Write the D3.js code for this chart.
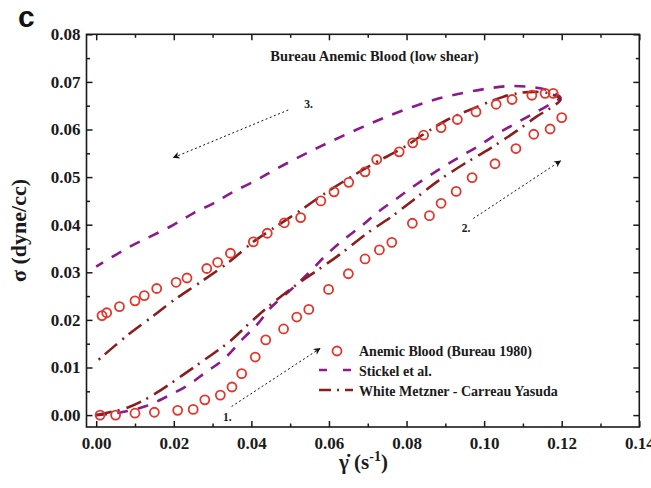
<!DOCTYPE html>
<html>
<head>
<meta charset="utf-8">
<script src="https://cdn.jsdelivr.net/npm/d3@7"></script>
<style>
  body { margin: 0; background: #fff; }
</style>
</head>
<body>
<svg id="chart" width="651" height="488"></svg>
<script>
// Measured shear stress of anemic blood (Bureau 1980), loading branch
const loadRate = [0.001, 0.005, 0.010, 0.015, 0.021, 0.025, 0.028, 0.032, 0.035, 0.0375,
  0.041, 0.0437, 0.0483, 0.0517, 0.0548, 0.0599, 0.065, 0.0693, 0.073, 0.0762,
  0.0815, 0.0859, 0.0889, 0.0928, 0.0969, 0.1028, 0.1082, 0.1128, 0.117, 0.120];
const loadStress = [0.000, 0.000, 0.0004, 0.0006, 0.0010, 0.0012, 0.0032, 0.0042, 0.0059, 0.0087,
  0.0122, 0.0158, 0.0181, 0.0206, 0.0222, 0.0264, 0.0297, 0.0328, 0.0347, 0.0363,
  0.0403, 0.0419, 0.0445, 0.0470, 0.0499, 0.0528, 0.0560, 0.0590, 0.0601, 0.0625];

// Unloading branch (decreasing shear rate)
const unloadRate = [0.1178, 0.1157, 0.1123, 0.1072, 0.1031, 0.0979, 0.0931, 0.0889, 0.0844, 0.0816,
  0.0781, 0.0723, 0.0693, 0.0651, 0.0613, 0.0579, 0.0527, 0.0485, 0.0441, 0.0405,
  0.0346, 0.0313, 0.0285, 0.0234, 0.0206, 0.0156, 0.0124, 0.0100, 0.0060, 0.0027, 0.0015];
const unloadStress = [0.0676, 0.0676, 0.0672, 0.0663, 0.0653, 0.0637, 0.0621, 0.0604, 0.0588, 0.0572,
  0.0553, 0.0537, 0.0511, 0.0489, 0.0469, 0.0450, 0.0415, 0.0404, 0.0382, 0.0364,
  0.0340, 0.0321, 0.0308, 0.0288, 0.0279, 0.0266, 0.0251, 0.0240, 0.0228, 0.0215, 0.0209];

// Stickel et al. model: up-sweep then down-sweep (closed loop)
const stickelRate = [0, 0.006, 0.0129, 0.018, 0.0237, 0.0284, 0.0327, 0.0379, 0.0418, 0.0449,
  0.050, 0.0547, 0.059, 0.0637, 0.0685, 0.0727, 0.0775, 0.0826, 0.0882, 0.0934,
  0.0985, 0.1032, 0.1084, 0.1135, 0.1187, 0.1197,
  0.1162, 0.1111, 0.1059, 0.1008, 0.0947, 0.0882, 0.0817, 0.0749, 0.0689, 0.0629,
  0.0577, 0.0525, 0.0466, 0.0414, 0.0353, 0.0302, 0.0250, 0.0198, 0.0139, 0.0087, 0.0];
const stickelStress = [0, 0.0005, 0.0019, 0.0038, 0.0063, 0.0091, 0.0116, 0.0161, 0.0193, 0.0225,
  0.0262, 0.0298, 0.0334, 0.0368, 0.0398, 0.0427, 0.0455, 0.0485, 0.0515, 0.0541,
  0.0565, 0.0590, 0.0614, 0.0637, 0.0661, 0.0667,
  0.0683, 0.0690, 0.0691, 0.0686, 0.0677, 0.0665, 0.0648, 0.0627, 0.0606, 0.0584,
  0.0564, 0.0543, 0.0518, 0.0494, 0.0469, 0.0445, 0.0424, 0.0399, 0.0375, 0.0354, 0.0312];

// White Metzner - Carreau Yasuda model: up-sweep then down-sweep
const wmcyRate = [0, 0.0085, 0.0154, 0.0223, 0.0279, 0.0343, 0.0395, 0.0448, 0.0518, 0.0577,
  0.0637, 0.0698, 0.0758, 0.0818, 0.0878, 0.0947, 0.1015, 0.1084, 0.1135, 0.1178, 0.1197,
  0.1166, 0.1135, 0.1093, 0.105, 0.0977, 0.0904, 0.0844, 0.0788, 0.0719, 0.065,
  0.059, 0.0521, 0.0452, 0.0405, 0.0343, 0.027, 0.0201, 0.0145, 0.0081, 0.0];
const wmcyStress = [0, 0.0017, 0.0046, 0.0084, 0.0116, 0.0154, 0.0193, 0.0231, 0.0275, 0.0308,
  0.0343, 0.0382, 0.0415, 0.0452, 0.0490, 0.0527, 0.0560, 0.0597, 0.0627, 0.0649, 0.0663,
  0.0676, 0.0679, 0.0677, 0.0669, 0.0646, 0.0620, 0.0590, 0.0560, 0.0530, 0.0497,
  0.0466, 0.0427, 0.0390, 0.0364, 0.0322, 0.0280, 0.0242, 0.0207, 0.0168, 0.0112];

// Axis ticks
const xTicks = [0, 0.02, 0.04, 0.06, 0.08, 0.10, 0.12, 0.14];
const xMinor = [0.01, 0.03, 0.05, 0.07, 0.09, 0.11, 0.13];
const yTicks = [0, 0.01, 0.02, 0.03, 0.04, 0.05, 0.06, 0.07, 0.08];
const yMinor = [0.005, 0.015, 0.025, 0.035, 0.045, 0.055, 0.065, 0.075];

// Sweep-direction arrows [x0, y0, x1, y1] and their labels
const arrowLines = [
  [0.0349, 0.0018, 0.0577, 0.0140],
  [0.0972, 0.0413, 0.1197, 0.0534],
  [0.0495, 0.0641, 0.0199, 0.0541]
];
const arrowLabels = ["1.", "2.", "3."];
const arrowLabelPos = [[0.0327, -0.0013], [0.0942, 0.0385], [0.0536, 0.0645]];

const legendNames = ["Anemic Blood (Bureau 1980)", "Stickel et al.", "White Metzner - Carreau Yasuda"];

const COL_DATA = "#e3352b", COL_STICKEL = "#8c1a8c", COL_WMCY = "#8b1d1d";
const SERIF = "'Liberation Serif', 'Times New Roman', serif";
const INK = "#1a1a1a";

const svg = d3.select("#chart");
const x = d3.scaleLinear().domain([-0.0025, 0.14]).range([86.5, 639.3]);
const y = d3.scaleLinear().domain([-0.0025, 0.08]).range([427, 34.3]);
const fmt = d3.format(".2f");

// serif bold text helper
function serif(sel, size) {
  return sel.style("font-family", SERIF).style("font-weight", "bold").style("font-size", size + "px").style("fill", INK);
}

// axes (inward ticks on all four sides)
function styleAxis(g) {
  g.select(".domain").remove();
  g.selectAll(".tick line").attr("stroke", INK).attr("stroke-width", 1.5);
  serif(g.selectAll(".tick text"), 17);
}
svg.append("g").attr("transform", "translate(0,427)")
  .call(d3.axisBottom(x).tickValues(xTicks).tickSize(-6).tickPadding(10).tickFormat(fmt)).call(styleAxis);
svg.append("g").attr("transform", "translate(0,427)")
  .call(d3.axisBottom(x).tickValues(xMinor).tickSize(-3.5).tickFormat("")).call(styleAxis);
svg.append("g").attr("transform", "translate(0,34.3)")
  .call(d3.axisTop(x).tickValues(xTicks).tickSize(-6).tickFormat("")).call(styleAxis);
svg.append("g").attr("transform", "translate(0,34.3)")
  .call(d3.axisTop(x).tickValues(xMinor).tickSize(-3.5).tickFormat("")).call(styleAxis);
svg.append("g").attr("transform", "translate(86.5,0)")
  .call(d3.axisLeft(y).tickValues(yTicks).tickSize(-6).tickPadding(6).tickFormat(fmt)).call(styleAxis);
svg.append("g").attr("transform", "translate(86.5,0)")
  .call(d3.axisLeft(y).tickValues(yMinor).tickSize(-3.5).tickFormat("")).call(styleAxis);
svg.append("g").attr("transform", "translate(639.3,0)")
  .call(d3.axisRight(y).tickValues(yTicks).tickSize(-6).tickFormat("")).call(styleAxis);
svg.append("g").attr("transform", "translate(639.3,0)")
  .call(d3.axisRight(y).tickValues(yMinor).tickSize(-3.5).tickFormat("")).call(styleAxis);

svg.append("rect").attr("x", 86.5).attr("y", 34.3).attr("width", 639.3 - 86.5).attr("height", 427 - 34.3)
  .attr("fill", "none").attr("stroke", INK).attr("stroke-width", 1.6);

// model curves
const line = d3.line().x(d => x(d[0])).y(d => y(d[1])).curve(d3.curveCatmullRom.alpha(0.5));
svg.append("path").datum(d3.zip(stickelRate, stickelStress)).attr("d", line)
  .attr("fill", "none").attr("stroke", COL_STICKEL).attr("stroke-width", 2.6).attr("stroke-dasharray", "11,10");
svg.append("path").datum(d3.zip(wmcyRate, wmcyStress)).attr("d", line)
  .attr("fill", "none").attr("stroke", COL_WMCY).attr("stroke-width", 2.6).attr("stroke-dasharray", "16,6,2,7");

// measured points
const pts = d3.zip(loadRate, loadStress).concat(d3.zip(unloadRate, unloadStress));
svg.append("g").selectAll("circle").data(pts).join("circle")
  .attr("cx", d => x(d[0])).attr("cy", d => y(d[1])).attr("r", 4.5)
  .attr("fill", "none").attr("stroke", COL_DATA).attr("stroke-width", 1.8);

// arrows
const defs = svg.append("defs");
defs.append("marker").attr("id", "head").attr("viewBox", "0 0 10 10").attr("refX", 9).attr("refY", 5)
  .attr("markerWidth", 9).attr("markerHeight", 7).attr("markerUnits", "userSpaceOnUse").attr("orient", "auto")
  .append("path").attr("d", "M0,0 L10,5 L0,10 L3,5 Z").attr("fill", "#111");
svg.append("g").selectAll("line").data(arrowLines).join("line")
  .attr("x1", d => x(d[0])).attr("y1", d => y(d[1])).attr("x2", d => x(d[2])).attr("y2", d => y(d[3]))
  .attr("stroke", "#111").attr("stroke-width", 1).attr("stroke-dasharray", "2,2.5").attr("marker-end", "url(#head)");
serif(svg.append("g").selectAll("text").data(arrowLabels).join("text")
  .attr("x", (d, i) => x(arrowLabelPos[i][0])).attr("y", (d, i) => y(arrowLabelPos[i][1]))
  .text(d => d), 11.5);

// title
serif(svg.append("text").attr("x", 374.5).attr("y", 61).attr("text-anchor", "middle")
  .text("Bureau Anemic Blood (low shear)"), 14.5);

// legend
const lg = svg.append("g");
lg.append("circle").attr("cx", 337).attr("cy", 351).attr("r", 4.5)
  .attr("fill", "none").attr("stroke", COL_DATA).attr("stroke-width", 1.8);
lg.append("line").attr("x1", 319).attr("x2", 353).attr("y1", 370).attr("y2", 370)
  .attr("stroke", COL_STICKEL).attr("stroke-width", 2.6).attr("stroke-dasharray", "8,16");
lg.append("line").attr("x1", 319).attr("x2", 353).attr("y1", 390).attr("y2", 390)
  .attr("stroke", COL_WMCY).attr("stroke-width", 2.6).attr("stroke-dasharray", "12,6,2,6");
serif(lg.selectAll("text").data(legendNames).join("text")
  .attr("x", 359).attr("y", (d, i) => 355.5 + i * 20).text(d => d), 14);

// axis titles
serif(svg.append("text").attr("transform", "translate(26,230.5) rotate(-90)").attr("text-anchor", "middle")
  .text("σ (dyne/cc)"), 22);
// shear rate: gamma with combining dot above
const xt = serif(svg.append("text").attr("x", 339).attr("y", 469), 21);
xt.append("tspan").text("\u03B3\u0307 (s");
xt.append("tspan").attr("dy", -8).style("font-size", "14px").text("-1");
xt.append("tspan").attr("dy", 8).text(")");

// panel letter
svg.append("text").attr("x", 18).attr("y", 27)
  .style("font-family", "'Liberation Sans', Arial, sans-serif").style("font-weight", "bold")
  .style("font-size", "30px").style("fill", "#111").text("c");
</script>
</body>
</html>
